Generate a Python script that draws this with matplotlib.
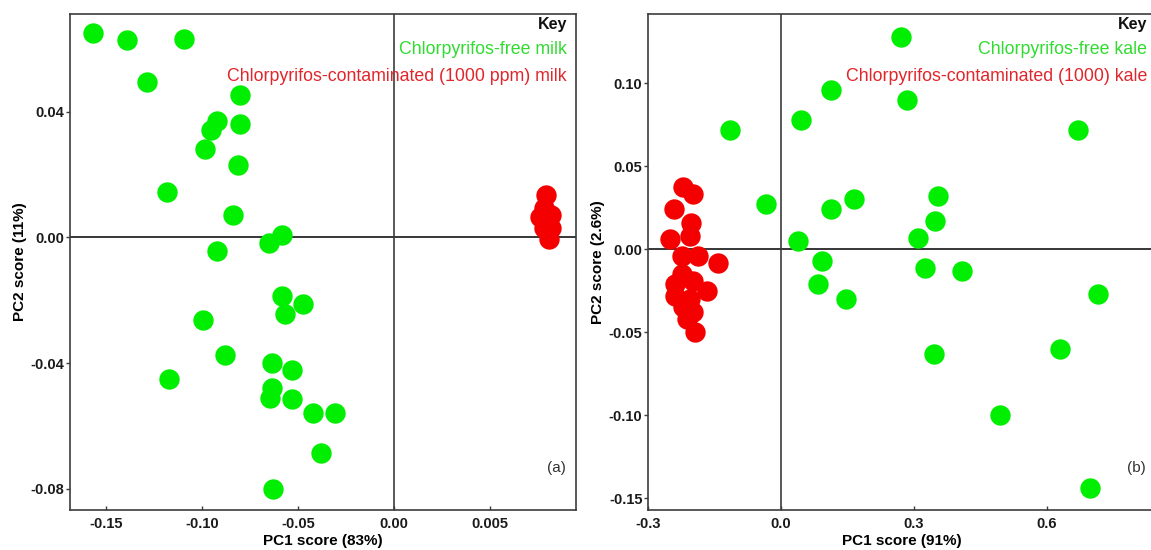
#!/usr/bin/env python3
"""
PCA score plots: chlorpyrifos-free vs contaminated milk (a) and kale (b).
"""

import numpy as np
import matplotlib
matplotlib.use("Agg")
import matplotlib.pyplot as plt

plt.rcParams['font.family'] = ['Liberation Sans', 'DejaVu Sans']
plt.rcParams['axes.unicode_minus'] = False

# ---- panel (a): milk ----
milk_free_pc1 = [-0.1567, -0.139, -0.1094, -0.1287, -0.0802, -0.0923, -0.0952, -0.0802,
                 -0.0987, -0.0813, -0.1183, -0.084, -0.0583, -0.065, -0.0923, -0.0583,
                 -0.0475, -0.0569, -0.0996, -0.0881, -0.0635, -0.0529, -0.1171, -0.0635,
                 -0.0644, -0.0533, -0.0423, -0.0308, -0.0379, -0.0631]
milk_free_pc2 = [0.0649, 0.0626, 0.0632, 0.0494, 0.0451, 0.0371, 0.0341, 0.0359,
                 0.0282, 0.0229, 0.0143, 0.0071, 0.0006, -0.0017, -0.0044, -0.0188,
                 -0.0212, -0.0244, -0.0264, -0.0375, -0.0400, -0.0421, -0.0451, -0.0478,
                 -0.0510, -0.0515, -0.0558, -0.0558, -0.0686, -0.0799]
milk_cont_pc1 = [0.0079, 0.0078, 0.0076, 0.0082, 0.0078, 0.0082, 0.0081, 0.0079]
milk_cont_pc2 = [0.0135, 0.0093, 0.0065, 0.0070, 0.0030, 0.0030, -0.0004, 0.0046]

# ---- panel (b): kale ----
kale_free_pc1 = [0.270, 0.113, 0.285, 0.044, -0.116, 0.670, -0.034, 0.113, 0.164, 0.354,
                 0.347, 0.310, 0.039, 0.092, 0.325, 0.408, 0.084, 0.146, 0.716, 0.346,
                 0.630, 0.493, 0.697]
kale_free_pc2 = [0.128, 0.096, 0.090, 0.078, 0.072, 0.072, 0.027, 0.024, 0.030, 0.032,
                 0.017, 0.007, 0.005, -0.007, -0.011, -0.013, -0.021, -0.030, -0.027,
                 -0.063, -0.060, -0.100, -0.144]
kale_cont_pc1 = [-0.221, -0.198, -0.241, -0.202, -0.251, -0.205, -0.224, -0.187, -0.142,
                 -0.239, -0.198, -0.168, -0.239, -0.205, -0.221, -0.198, -0.194, -0.224,
                 -0.213]
kale_cont_pc2 = [0.0375, 0.033, 0.024, 0.016, 0.006, 0.008, -0.004, -0.004, -0.008,
                 -0.021, -0.019, -0.025, -0.028, -0.030, -0.035, -0.038, -0.050, -0.015,
                 -0.042]

GREEN = '#00ee00'
RED = '#f50000'
GREEN_TXT = '#2fdc2f'
RED_TXT = '#e0262b'
SPINE = '#3c3c3c'
MSIZE = 215


def style_axes(ax):
    for sp in ax.spines.values():
        sp.set_color(SPINE)
        sp.set_linewidth(1.2)
    ax.tick_params(axis='y', direction='out', length=3, width=1, color=SPINE,
                   labelsize=10.5, pad=1)
    ax.tick_params(axis='x', direction='in', length=3, width=1, color=SPINE,
                   labelsize=10.5, pad=5)
    for lab in ax.get_xticklabels() + ax.get_yticklabels():
        lab.set_fontweight('bold')
        lab.set_color('#1a1a1a')
    ax.axhline(0, color='black', linewidth=1.1, zorder=1)
    ax.axvline(0, color=SPINE, linewidth=1.2, zorder=1)


def add_key(ax, free_text, cont_text, tag):
    ax.text(0.982, 0.979, 'Key', transform=ax.transAxes, ha='right', va='center',
            fontsize=11.5, fontweight='bold', color='#111111')
    ax.text(0.982, 0.929, free_text, transform=ax.transAxes, ha='right', va='center',
            fontsize=12.8, color=GREEN_TXT)
    ax.text(0.982, 0.875, cont_text, transform=ax.transAxes, ha='right', va='center',
            fontsize=12.8, color=RED_TXT)
    ax.text(0.98, 0.085, tag, transform=ax.transAxes, ha='right', va='center',
            fontsize=11, color='#333333')


def main():
    fig = plt.figure(figsize=(11.51, 5.5), dpi=100)

    # (a) milk -- the PC1 axis is stretched 10x on the positive side
    ax1 = fig.add_axes([0.0608, 0.0727, 0.4396, 0.9018])
    fwd = lambda x: np.where(x < 0, x, x * 10.0)
    inv = lambda y: np.where(y < 0, y, y / 10.0)
    ax1.set_xscale('function', functions=(fwd, inv))
    ax1.scatter(milk_free_pc1, milk_free_pc2, s=MSIZE, color=GREEN, linewidths=0, zorder=3)
    ax1.scatter(milk_cont_pc1, milk_cont_pc2, s=MSIZE, color=RED, linewidths=0, zorder=3)
    ax1.set_xlim(-0.1688, 0.00948)
    ax1.set_ylim(-0.0867, 0.0710)
    ax1.set_xticks([-0.15, -0.10, -0.05, 0.0, 0.005])
    ax1.set_xticklabels(['-0.15', '-0.10', '-0.05', '0.00', '0.005'])
    ax1.set_yticks([0.04, 0.0, -0.04, -0.08])
    ax1.set_yticklabels(['0.04', '0.00', '-0.04', '-0.08'])
    ax1.set_xlabel('PC1 score (83%)', fontsize=11, fontweight='bold', labelpad=2)
    ax1.set_ylabel('PC2 score (11%)', fontsize=11, fontweight='bold', labelpad=2.5)
    style_axes(ax1)
    add_key(ax1, 'Chlorpyrifos-free milk',
            'Chlorpyrifos-contaminated (1000 ppm) milk', '(a)')

    # (b) kale
    ax2 = fig.add_axes([0.563, 0.0727, 0.4414, 0.9018])
    ax2.scatter(kale_free_pc1, kale_free_pc2, s=MSIZE, color=GREEN, linewidths=0, zorder=3)
    ax2.scatter(kale_cont_pc1, kale_cont_pc2, s=MSIZE, color=RED, linewidths=0, zorder=3)
    ax2.set_xlim(-0.30, 0.846)
    ax2.set_ylim(-0.157, 0.1416)
    ax2.set_xticks([-0.3, 0.0, 0.3, 0.6])
    ax2.set_xticklabels(['-0.3', '0.0', '0.3', '0.6'])
    ax2.set_yticks([0.10, 0.05, 0.0, -0.05, -0.10, -0.15])
    ax2.set_yticklabels(['0.10', '0.05', '0.00', '-0.05', '-0.10', '-0.15'])
    ax2.set_xlabel('PC1 score (91%)', fontsize=11, fontweight='bold', labelpad=2)
    ax2.set_ylabel('PC2 score (2.6%)', fontsize=11, fontweight='bold', labelpad=2.5)
    style_axes(ax2)
    add_key(ax2, 'Chlorpyrifos-free kale',
            'Chlorpyrifos-contaminated (1000) kale', '(b)')

    fig.savefig('out.png', dpi=100)


if __name__ == "__main__":
    main()
